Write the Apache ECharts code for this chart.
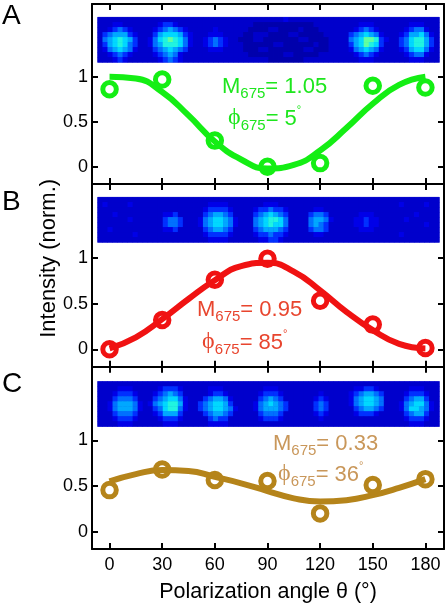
<!DOCTYPE html>
<html><head><meta charset="utf-8">
<style>html,body{margin:0;padding:0;background:#fff}#c{width:447px;height:607px}</style>
<script src="https://cdn.jsdelivr.net/npm/echarts@6/dist/echarts.min.js"></script>
</head><body><div id="c"></div>
<script>
const angleTicks=[0,30,60,90,120,150,180];
const intensityTicks=[0,0.5,1];
const curveAngles=[0,15,30,45,60,75,90,105,120,135,150,165,180];

const pointsA=[0.86,0.97,0.29,0.0,0.04,0.90,0.88];
const curveA=[1.0,0.98,0.83,0.57,0.28,0.08,-0.02,0.02,0.18,0.43,0.70,0.91,1.0];
const pointsB=[0.0,0.32,0.76,0.99,0.53,0.27,0.015];
const curveB=[0.01,0.13,0.33,0.55,0.755,0.91,0.945,0.85,0.645,0.41,0.21,0.06,0.01];
const pointsC=[0.455,0.68,0.565,0.555,0.20,0.51,0.575];
const curveC=[0.55,0.63,0.675,0.665,0.60,0.53,0.445,0.365,0.33,0.345,0.40,0.48,0.575];

// camera strips: each row is 68 cells of image level 0-8 (spaces only group the spots)
const stripA=[
"1111111111 1111111111 1111111 1111111111211111111111 1111111111 111111111",
"1112211111 1123321111 1111111 1111000000000000111111 1112221111 111222111",
"1123432111 1234543211 1112111 1110000110000100011111 1123432111 112344211",
"1345553211 1356665321 1122211 1100111000011000001111 1345654211 123556421",
"1456765311 2467876421 1234321 1000110000000110000111 1456887321 134677531",
"1356764311 2457776421 1234321 1100000011000000100111 1356876311 134677531",
"1245654211 1345654311 1122211 1100011000000011000111 1245654211 123566421",
"1123432111 1234542111 1111111 1110000000110000011111 1123432111 112344211",
"1112321111 1123432111 1111111 1111111000000011111111 1112221111 111222111"];
const stripB=[
"1111111111 111111111 1111111111 11111111111 11111111 11111111111 111111111",
"1211112111 111111111 1112222111 11112221111 11111111 11111111111 121111211",
"1111111111 111111111 1123333211 11233433211 11122111 11111111111 111111111",
"1112111111 111223111 1134554311 11345654311 11344311 11112221111 111121111",
"1111112111 111344311 1245665421 11456776411 11455421 11122322111 112111111",
"1111111111 111344311 1245665421 11456766411 11454311 11122322111 111111211",
"1121111111 111223111 1134554311 11345554311 11344311 11112221111 111111111",
"1111111211 111111111 1123333211 11233433211 11122111 11111111111 121111111",
"1111111111 111111111 1112222111 11122332111 11111111 11111111111 111111111"];
const stripC=[
"1111111111 111111111 1111111111 11111111111 111111111 1111111111 111111111",
"1111222111 112333211 1112221111 11112221111 111111111 1122332111 111222111",
"1112333211 123454311 1112332111 11123332111 111121111 1234554311 112333211",
"1113444311 134566421 1134554211 11134543111 111232111 1245665411 113455311",
"1124555421 245677521 1345665311 11245654311 111343111 1245665411 124566421",
"1124555421 134677421 1345665421 11245554311 111343111 1134554311 124665421",
"1113444311 123555311 1134554311 11134443111 111232111 1123332111 113455311",
"1112333211 112333211 1113433111 11123332111 111121111 1111111111 112333211",
"1111222111 111222111 1112222111 11111111111 111111111 1111111111 111222111"];

const imageLevels=['#0000ac','#0000cc','#0000e8','#0030ff','#0070ff','#00a8ff','#00d8ff','#20f4e0','#60ffa0'];

const FONT='"Liberation Sans",Arial,sans-serif';
const green='#14ee14',red='#f01212',gold='#b5841a';
const panels=[
 {pts:pointsA,curve:curveA,strip:stripA,color:green,plot:[4,180],min:-0.192,max:1.808,stripTop:17.3},
 {pts:pointsB,curve:curveB,strip:stripB,color:red,plot:[184,182.7],min:-0.19,max:1.807,stripTop:197.3},
 {pts:pointsC,curve:curveC,strip:stripC,color:gold,plot:[366.7,182.3],min:-0.19,max:1.807,stripTop:381.5}
];

const grid=[],xAxis=[],yAxis=[],series=[];
const xMin=-10,xMax=190.6;
const line={show:true,onZero:false,lineStyle:{color:'#000',width:2}};
panels.forEach((p,i)=>{
  const g=grid.length;
  grid.push({left:92,width:352,top:p.plot[0],height:p.plot[1]});
  const tick={show:true,inside:true,length:6,lineStyle:{color:'#000',width:2}};
  const xBase={type:'value',gridIndex:g,min:xMin,max:xMax,axisLine:line,splitLine:{show:false},
    axisTick:Object.assign({customValues:angleTicks},tick)};
  const yBase={type:'value',gridIndex:g,min:p.min,max:p.max,axisLine:line,splitLine:{show:false},
    axisTick:Object.assign({customValues:intensityTicks},tick)};
  const last=i===2;
  xAxis.push(Object.assign({},xBase,{position:'bottom',
    axisLabel:last?{show:true,customValues:angleTicks,color:'#000',fontFamily:FONT,fontSize:18,margin:7}:{show:false},
    name:last?'Polarization angle θ (°)':'',nameLocation:'middle',nameGap:32,
    nameTextStyle:{color:'#000',fontFamily:FONT,fontSize:21.5}}));
  xAxis.push(Object.assign({},xBase,{position:'top',axisLabel:{show:false}}));
  const yi=yAxis.length,xi=xAxis.length-2;
  yAxis.push(Object.assign({},yBase,{position:'left',
    axisLabel:{show:true,customValues:intensityTicks,color:'#000',fontFamily:FONT,fontSize:18,margin:4,
      formatter:v=>String(v)},
    name:i===1?'Intensity (norm.)':'',nameLocation:'middle',nameGap:32,nameMoveOverlap:false,
    nameTextStyle:{color:'#000',fontFamily:FONT,fontSize:22,padding:[0,0,0,34]}}));
  yAxis.push(Object.assign({},yBase,{position:'right',axisLabel:{show:false}}));
  series.push({type:'line',xAxisIndex:xi,yAxisIndex:yi,smooth:true,showSymbol:false,silent:true,
    data:curveAngles.map((a,k)=>[a,p.curve[k]]),lineStyle:{color:p.color,width:6},z:3});
  series.push({type:'scatter',xAxisIndex:xi,yAxisIndex:yi,symbol:'circle',symbolSize:13.5,
    data:angleTicks.map((a,k)=>[a,p.pts[k]]),
    itemStyle:{color:'rgba(255,255,255,0)',borderColor:p.color,borderWidth:5,opacity:1},z:4});
});
const heatIdx=[];
panels.forEach(p=>{
  const rows=p.strip.map(r=>r.replace(/ /g,''));
  const g=grid.length;
  grid.push({left:97.7,width:341.6,top:p.stripTop,height:45,show:true,backgroundColor:'#0000c4',borderColor:'#8080e0',borderWidth:1,z:1});
  const cols=[...Array(rows[0].length).keys()];
  const xi=xAxis.length,yi=yAxis.length;
  xAxis.push({type:'category',gridIndex:g,data:cols,show:false});
  yAxis.push({type:'category',gridIndex:g,data:rows.map((_,k)=>k),inverse:true,show:false});
  const data=[];
  rows.forEach((r,y)=>{for(let x=0;x<r.length;x++)data.push([x,y,+r[x]]);});
  heatIdx.push(series.length);
  series.push({type:'heatmap',xAxisIndex:xi,yAxisIndex:yi,data,silent:true,progressive:0,itemStyle:{borderWidth:0}});
});

function note(x,y,text,color){
  return {type:'text',x,y,z:20,style:{text,fill:color,font:'22px '+FONT,rich:{
    m:{fontFamily:FONT,fontSize:22,color:color,lineHeight:26,verticalAlign:'bottom'},
    s:{fontFamily:FONT,fontSize:15,color:color,lineHeight:20,verticalAlign:'bottom',padding:[0,0,-3,0]},
    p:{fontFamily:'"Liberation Serif",serif',fontSize:24,color:color,lineHeight:26,verticalAlign:'bottom'},
    d:{fontFamily:FONT,fontSize:11,color:color,lineHeight:26,verticalAlign:'top',padding:[0,0,10,0]}
  }}};
}
const gText='#1ee61e',rText='#e8452e',cText='#c9975a';
const graphic=[
 {type:'text',x:2,y:2,style:{text:'A',fill:'#000',font:'28px '+FONT}},
 {type:'text',x:2,y:188,style:{text:'B',fill:'#000',font:'28px '+FONT}},
 {type:'text',x:2,y:370,style:{text:'C',fill:'#000',font:'28px '+FONT}},
 note(222,72,'{m|M}{s|675}{m|= 1.05}',gText),
 note(228,104,'{p|ϕ}{s|675}{m|= 5}{d|°}',gText),
 note(197,295,'{m|M}{s|675}{m|= 0.95}',rText),
 note(202,328,'{p|ϕ}{s|675}{m|= 85}{d|°}',rText),
 note(273,429,'{m|M}{s|675}{m|= 0.33}',cText),
 note(278,460,'{p|ϕ}{s|675}{m|= 36}{d|°}',cText)
];

const chart=echarts.init(document.getElementById('c'),null,{renderer:'canvas'});
chart.setOption({animation:false,backgroundColor:'#fff',grid,xAxis,yAxis,series,graphic,
  visualMap:{show:false,type:'continuous',min:0,max:8,seriesIndex:heatIdx,inRange:{color:imageLevels}}});
</script></body></html>
